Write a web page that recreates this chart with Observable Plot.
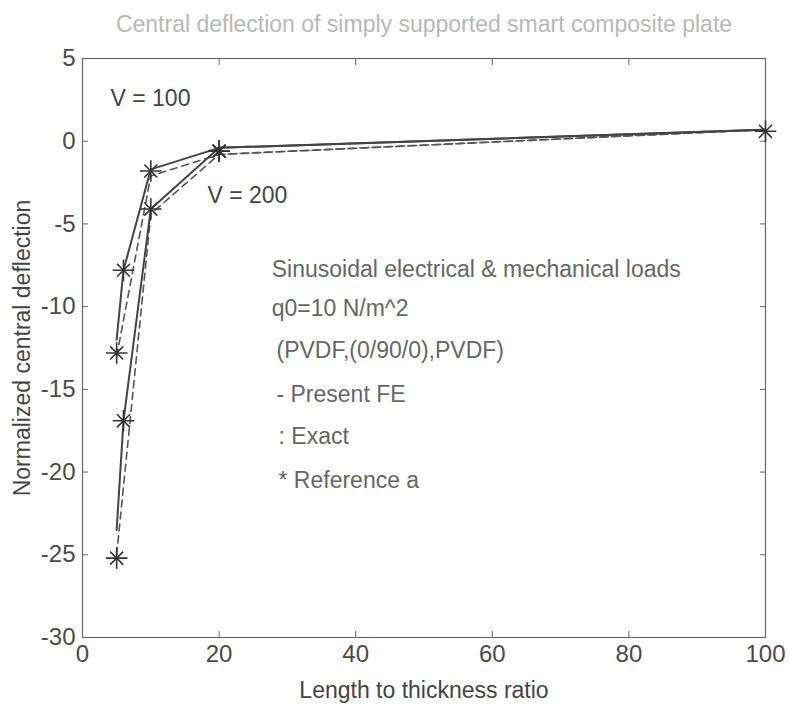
<!DOCTYPE html>
<html>
<head>
<meta charset="utf-8">
<script src="https://cdn.jsdelivr.net/npm/d3@7"></script>
<script src="https://cdn.jsdelivr.net/npm/@observablehq/plot@0.6"></script>
<style>
  html, body { margin: 0; padding: 0; background: #fff; }
</style>
</head>
<body>
<div id="chart"></div>
<script>
// ---- data ----
const feRatio = [5, 6, 10, 20, 100];
const feV100 = [-12, -7.8, -1.7, -0.4, 0.7];
const feV200 = [-23.5, -16.9, -4.1, -0.4, 0.7];

const exactRatio = [5, 10, 20, 100];
const exactV100 = [-13, -2.1, -0.8, 0.7];
const exactV200 = [-25, -4.4, -0.8, 0.7];

const refRatio = [5, 6, 10, 20, 100, 5, 6, 10, 20];
const refValue = [-12.8, -7.8, -1.8, -0.6, 0.6, -25.2, -16.9, -4.1, -0.6];

const xTicks = [0, 20, 40, 60, 80, 100];
const yTicks = [-30, -25, -20, -15, -10, -5, 0, 5];

const annoText = ["V = 100", "V = 200", "Sinusoidal electrical & mechanical loads", "q0=10 N/m^2", "(PVDF,(0/90/0),PVDF)", "- Present FE", ": Exact", "* Reference a"];
const annoX = [4.1, 18.3, 27.7, 27.7, 28.4, 28.4, 28.7, 28.7];
const annoY = [2.6, -3.3, -7.75, -10.1, -12.65, -15.3, -17.85, -20.5];

const titleText = "Central deflection of simply supported smart composite plate";
const xLabel = "Length to thickness ratio";
const yLabel = "Normalized central deflection";

// ---- tables ----
const fe = [
  ...feRatio.map((r, i) => ({r, v: feV100[i], s: "V100"})),
  ...feRatio.map((r, i) => ({r, v: feV200[i], s: "V200"}))
];
const exact = [
  ...exactRatio.map((r, i) => ({r, v: exactV100[i], s: "V100"})),
  ...exactRatio.map((r, i) => ({r, v: exactV200[i], s: "V200"}))
];
const ref = refRatio.map((r, i) => ({r, v: refValue[i]}));
const anno = annoText.map((t, i) => ({t, x: annoX[i], y: annoY[i], light: i >= 2}));

const ink = "#4a4a4a";
const plain = d => String(d);

const chart = Plot.plot({
  width: 789,
  height: 704,
  marginLeft: 82,
  marginRight: 24,
  marginTop: 58,
  marginBottom: 67,
  x: {domain: [0, 100]},
  y: {domain: [-30, 5]},
  style: {fontFamily: "'Liberation Sans', Arial, sans-serif", fontSize: "23px", color: ink, background: "#fff"},
  marks: [
    Plot.frame({stroke: "#666", strokeWidth: 1.2}),
    Plot.axisX({ticks: xTicks, tickSize: -6, tickPadding: 13, tickFormat: plain, label: null, fontSize: 24, stroke: "#666"}),
    Plot.axisX({anchor: "top", ticks: xTicks, tickSize: -6, tickFormat: () => "", label: null, stroke: "#666"}),
    Plot.axisY({ticks: yTicks, tickSize: -6, tickPadding: 13, tickFormat: plain, label: null, fontSize: 24, stroke: "#666"}),
    Plot.axisY({anchor: "right", ticks: yTicks, tickSize: -6, tickFormat: () => "", label: null, stroke: "#666"}),
    Plot.line(exact, {x: "r", y: "v", z: "s", stroke: "#555", strokeWidth: 1.6, strokeDasharray: "7,5"}),
    Plot.line(fe, {x: "r", y: "v", z: "s", stroke: "#444", strokeWidth: 2}),
    Plot.dot(ref, {x: "r", y: "v", symbol: "plus", r: 7, stroke: "#333", strokeWidth: 1.6}),
    Plot.dot(ref, {x: "r", y: "v", symbol: "times", r: 6, stroke: "#333", strokeWidth: 1.6}),
    Plot.text(anno, {x: "x", y: "y", text: "t", textAnchor: "start", lineAnchor: "middle", fontSize: 23,
      fill: d => d.light ? "#666" : "#444"}),
    Plot.text([titleText], {frameAnchor: "top", dy: -34, textAnchor: "middle", lineAnchor: "middle", fontSize: 23, fill: "#b8b8b8"}),
    Plot.text([xLabel], {frameAnchor: "bottom", dy: 53, textAnchor: "middle", lineAnchor: "middle", fontSize: 23, fill: "#444"}),
    Plot.text([yLabel], {frameAnchor: "left", dx: -60, rotate: -90, textAnchor: "middle", lineAnchor: "middle", fontSize: 23, fill: "#444"})
  ]
});
document.getElementById("chart").appendChild(chart);
</script>
</body>
</html>
